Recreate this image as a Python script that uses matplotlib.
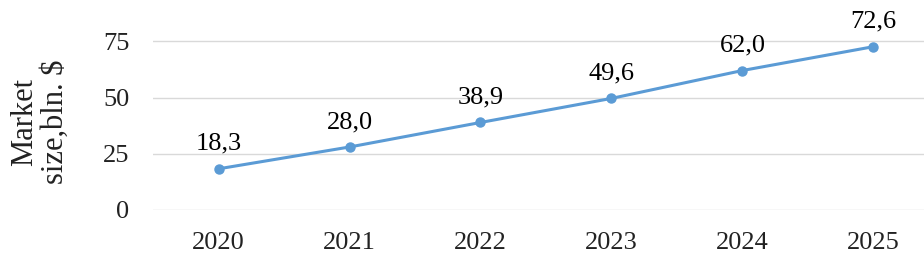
import matplotlib.pyplot as plt

years = ["2020", "2021", "2022", "2023", "2024", "2025"]
market_size = [18.3, 28.0, 38.9, 49.6, 62.0, 72.6]
y_ticks = [0, 25, 50, 75]

plt.rcParams["font.family"] = ["Liberation Serif", "DejaVu Serif"]

fig = plt.figure(figsize=(9.24, 2.71), dpi=100)
ax = fig.add_axes([153 / 924, 61 / 271, 786 / 924, 180 / 271])

x = list(range(len(years)))
line_color = "#5B9BD5"
ax.plot(x, market_size, color=line_color, linewidth=2.2, marker="o", markersize=6.5, zorder=3)

for xi, val in zip(x, market_size):
    ax.annotate(f"{val:.1f}".replace(".", ","), (xi, val), xytext=(0, 10),
                textcoords="offset points", ha="center", va="bottom", fontsize=19)

ax.set_xlim(-0.5, 5.5)
ax.set_ylim(0, 80)
ax.set_xticks(x)
ax.set_xticklabels(years)
ax.set_yticks(y_ticks)
ax.tick_params(axis="both", length=0, labelsize=19, colors="#222222")
ax.tick_params(axis="x", pad=16)
ax.tick_params(axis="y", pad=17)
ax.grid(axis="y", color="#d9d9d9", linewidth=1)
ax.set_axisbelow(True)
for spine in ax.spines.values():
    spine.set_visible(False)

fig.text(40 / 924, 1 - 122 / 271, "Market\nsize,bln. $", rotation=90, ha="center", va="center",
         fontsize=22, color="#222222", linespacing=1.05)

fig.savefig("out.png", dpi=100)
